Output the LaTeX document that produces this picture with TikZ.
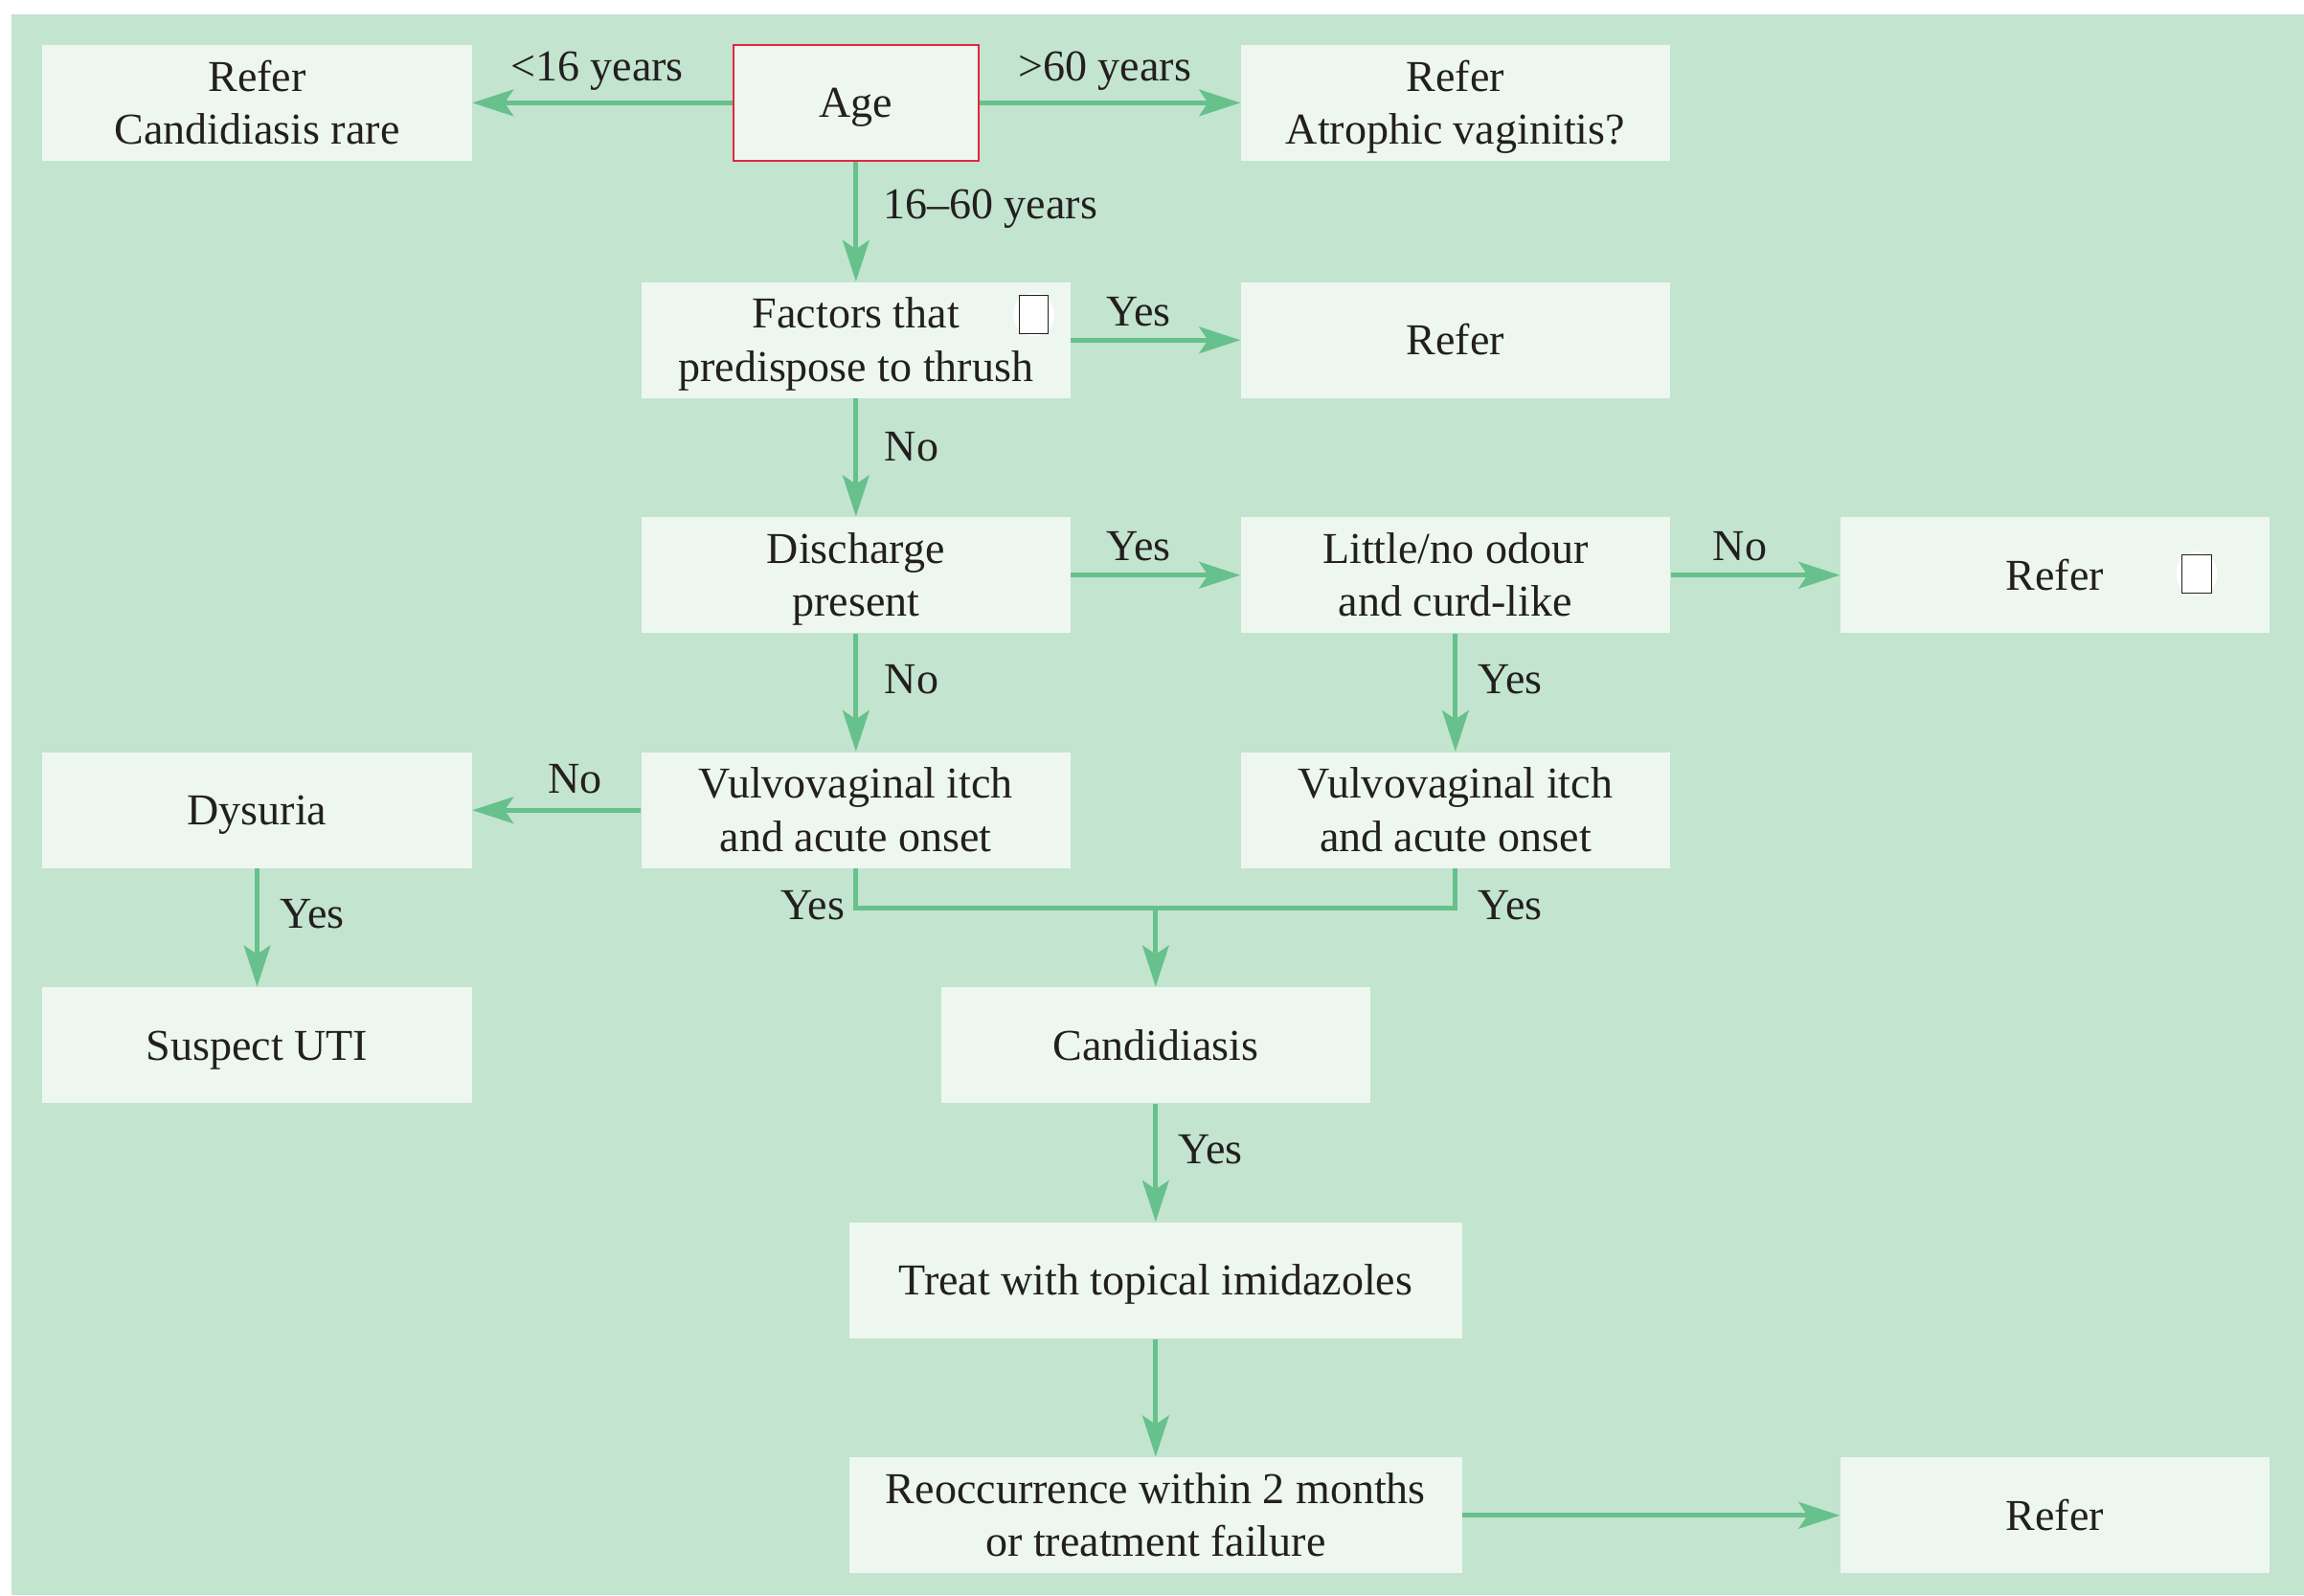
\documentclass[tikz,border=0pt]{standalone}
\usepackage{fontspec}
\setmainfont{Liberation Serif}
\usetikzlibrary{arrows.meta}
\definecolor{panel}{HTML}{C3E4CE}
\definecolor{boxfill}{HTML}{EDF7F0}
\definecolor{flow}{HTML}{66C18C}
\definecolor{agered}{HTML}{E3263F}
\definecolor{ink}{HTML}{231F20}
\begin{document}
\begin{tikzpicture}[x=0.5pt,y=-0.5pt,
  box/.style={rectangle, fill=boxfill, minimum width=146pt, minimum height=39.5pt,
    inner sep=0pt, align=center, text=ink, font=\fontsize{15}{18}\selectfont,
    text height=29pt, text depth=1pt},
  single/.style={box, text height=11pt, text depth=1pt},
  widebox/.style={minimum width=208.5pt},
  agebox/.style={single, minimum width=83.5pt, draw=agered, line width=0.7pt},
  flowline/.style={draw=flow, line width=1.6pt},
  flowarrow/.style={flowline, -{Stealth[length=14pt,width=9pt,inset=3pt]}},
  lbl/.style={text=ink, font=\fontsize{15}{18}\selectfont, inner sep=0pt,
    text height=10pt, text depth=0pt},
  tickbox/.style={rectangle, draw=ink, fill=white, line width=0.4pt,
    minimum width=10pt, minimum height=13pt, inner sep=0pt}
]
\useasboundingbox (0,0) rectangle (1568,1086);
\fill[panel] (8,10) rectangle (1568,1086);

% decision and outcome boxes
\node[box]    (referA)    at (175,70)      {Refer\\Candidiasis rare};
\node[agebox] (age)       at (582.5,70)    {Age};
\node[box]    (referB)    at (990.5,70)    {Refer\\Atrophic vaginitis?};
\node[box]    (factors)   at (582.5,231.5) {Factors that\\predispose to thrush};
\node[single] (refer1)    at (990.5,231.5) {Refer};
\node[box]    (discharge) at (582.5,391.5) {Discharge\\present};
\node[box]    (odour)     at (990.5,391.5) {Little/no odour\\and curd-like};
\node[single] (refer2)    at (1398.5,391.5){Refer};
\node[single] (dysuria)   at (175,551.5)   {Dysuria};
\node[box]    (itch1)     at (582.5,551.5) {Vulvovaginal itch\\and acute onset};
\node[box]    (itch2)     at (990.5,551.5) {Vulvovaginal itch\\and acute onset};
\node[single] (uti)       at (175,711.5)   {Suspect UTI};
\node[single] (cand)      at (786.5,711.5) {Candidiasis};
\node[single, widebox] (treat) at (786.5,871.5) {Treat with topical imidazoles};
\node[box, widebox]    (reocc) at (786.5,1031.5){Reoccurrence within 2 months\\or treatment failure};
\node[single] (refer3)    at (1398.5,1031.5){Refer};

% small tick boxes with their white surround
\fill[white] (703.5,214) ellipse (14 and 15);
\fill[white] (1495,390.5) ellipse (14 and 15);
\node[tickbox] (tickA) at (703.5,214) {};
\node[tickbox] (tickB) at (1495,390.5) {};

% connectors
\draw[flowarrow] (age.west) -- node[lbl, pos=0.52, above=6.8pt] {<16 years} (referA.east);
\draw[flowarrow] (age.east) -- node[lbl, pos=0.48, above=6.8pt] {>60 years} (referB.west);
\draw[flowarrow] (age.south) -- node[lbl, pos=0.35, right=8.5pt] {16–60 years} (factors.north);
\draw[flowarrow] (factors.east) -- node[lbl, pos=0.4, above=3.9pt] {Yes} (refer1.west);
\draw[flowarrow] (factors.south) -- node[lbl, pos=0.4, right=9pt] {No} (discharge.north);
\draw[flowarrow] (discharge.east) -- node[lbl, pos=0.4, above=4.3pt] {Yes} (odour.west);
\draw[flowarrow] (discharge.south) -- node[lbl, pos=0.38, right=9pt] {No} (itch1.north);
\draw[flowarrow] (odour.east) -- node[lbl, pos=0.41, above=4.3pt] {No} (refer2.west);
\draw[flowarrow] (odour.south) -- node[lbl, pos=0.38, right=7pt] {Yes} (itch2.north);
\draw[flowarrow] (itch1.west) -- node[lbl, pos=0.39, above=5pt] {No} (dysuria.east);
\draw[flowarrow] (dysuria.south) -- node[lbl, pos=0.38, right=7pt] {Yes} (uti.north);

\coordinate (joinL) at (582.5,618);
\coordinate (joinR) at (990.5,618);
\coordinate (join)  at (786.5,618);
\draw[flowline] (itch1.south) -- node[lbl, pos=0.93, left=3pt] {Yes} (joinL) -- (joinR)
  -- node[lbl, pos=0.07, right=7pt] {Yes} (itch2.south);
\draw[flowarrow] (join) -- (cand.north);

\draw[flowarrow] (cand.south) -- node[lbl, pos=0.38, right=7pt] {Yes} (treat.north);
\draw[flowarrow] (treat.south) -- (reocc.north);
\draw[flowarrow] (reocc.east) -- (refer3.west);
\end{tikzpicture}
\end{document}
